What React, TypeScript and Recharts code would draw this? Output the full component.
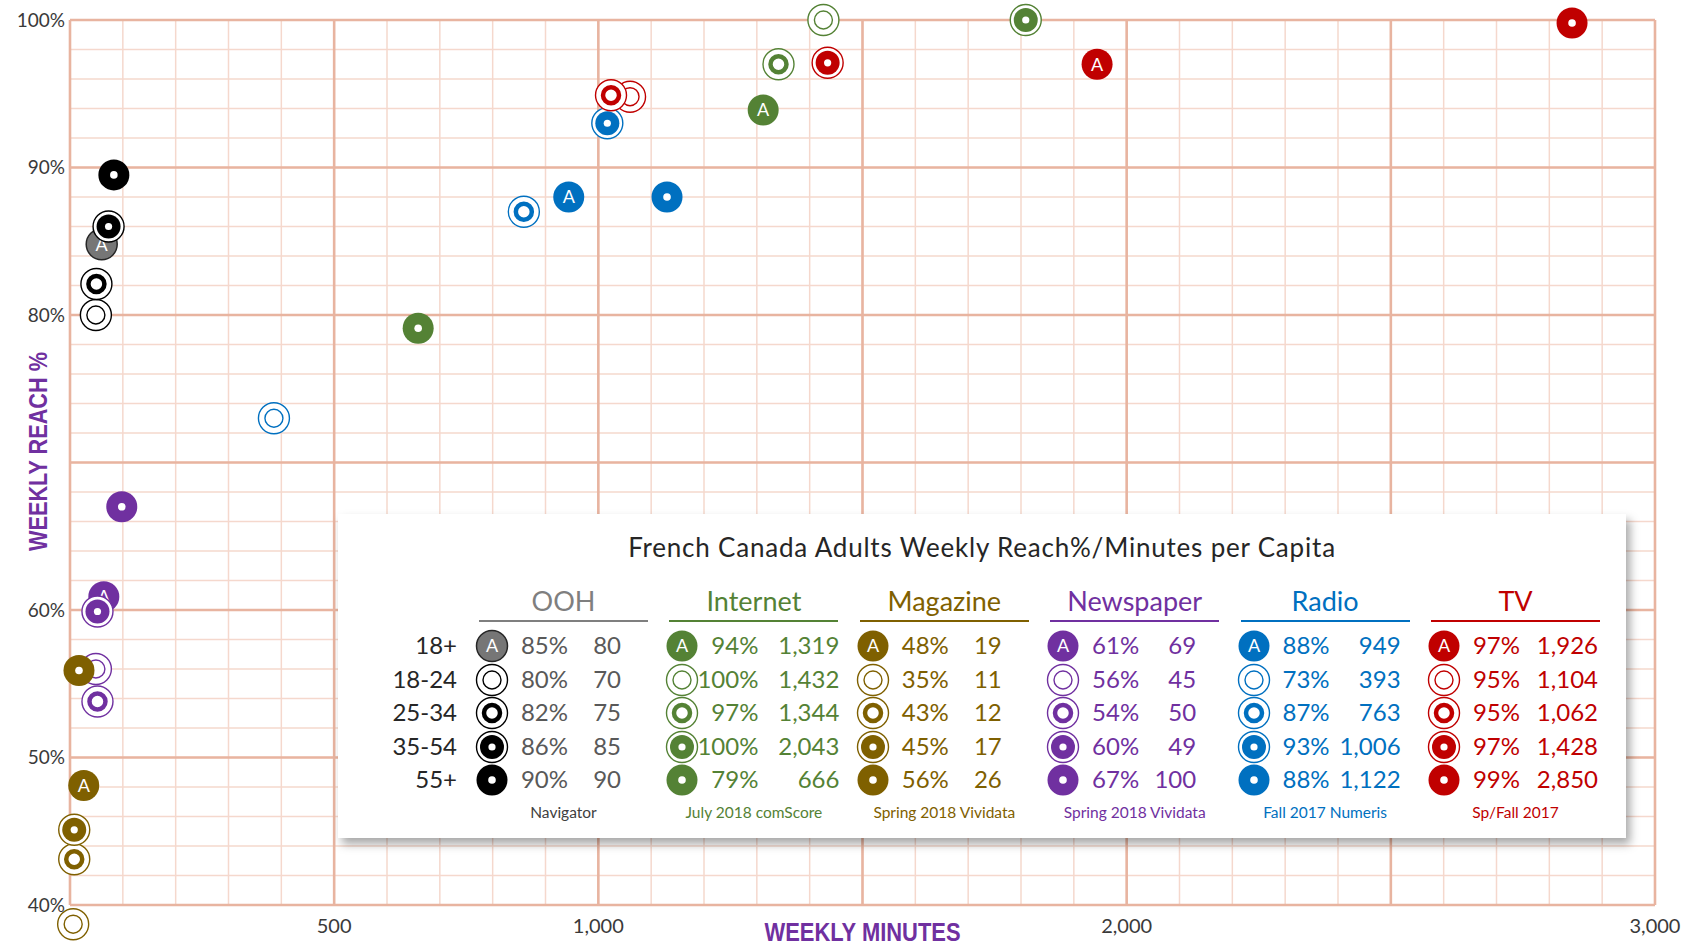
import React from 'react';
import { ScatterChart, Scatter, XAxis, YAxis, CartesianGrid, ReferenceDot, ReferenceLine, Label } from 'recharts';

const media = ['OOH', 'Internet', 'Magazine', 'Newspaper', 'Radio', 'TV'];
const segments = ['18+', '18-24', '25-34', '35-54', '55+'];
const markerColors = ['#000000', '#548235', '#7f6000', '#7030a0', '#0070c0', '#c00000'];
const textColors = ['#595959', '#548235', '#7f6000', '#7030a0', '#0070c0', '#c00000'];
const sources = ['Navigator', 'July 2018 comScore', 'Spring 2018 Vividata', 'Spring 2018 Vividata', 'Fall 2017 Numeris', 'Sp/Fall 2017'];

// figures as printed in the legend table
const reachText = [
  ['85%', '80%', '82%', '86%', '90%'],
  ['94%', '100%', '97%', '100%', '79%'],
  ['48%', '35%', '43%', '45%', '56%'],
  ['61%', '56%', '54%', '60%', '67%'],
  ['88%', '73%', '87%', '93%', '88%'],
  ['97%', '95%', '95%', '97%', '99%'],
];
const minutesText = [
  ['80', '70', '75', '85', '90'],
  ['1,319', '1,432', '1,344', '2,043', '666'],
  ['19', '11', '12', '17', '26'],
  ['69', '45', '50', '49', '100'],
  ['949', '393', '763', '1,006', '1,122'],
  ['1,926', '1,104', '1,062', '1,428', '2,850'],
];

// plotted points, in segment order (18+, 18-24, 25-34, 35-54, 55+)
const oohMinutes = [60, 49, 50, 73, 83];
const oohReach = [84.8, 80.0, 82.1, 86.0, 89.5];
const internetMinutes = [1312, 1426, 1341, 1809, 659];
const internetReach = [93.9, 100, 97.0, 100, 79.1];
const magazineMinutes = [26, 6, 8, 8, 17];
const magazineReach = [48.1, 38.7, 43.1, 45.1, 55.9];
const newspaperMinutes = [64, 49, 52, 52, 98];
const newspaperReach = [60.9, 56.0, 53.8, 59.9, 67.0];
const radioMinutes = [944, 386, 859, 1017, 1130];
const radioReach = [88.0, 73.0, 87.0, 93.0, 88.0];
const tvMinutes = [1944, 1060, 1024, 1434, 2843];
const tvReach = [97.0, 94.8, 94.9, 97.1, 99.8];

// labelled ticks, and grid steps
const xTickLabels = [500, 1000, 2000, 3000];
const yTickLabels = [40, 50, 60, 80, 90, 100];
const xMinor = Array.from({ length: 31 }, (_, i) => i * 100);
const yMinor = Array.from({ length: 31 }, (_, i) => 40 + i * 2);
const xMajor = [0, 500, 1000, 1500, 2000, 2500, 3000];
const yMajor = [40, 50, 60, 70, 80, 90, 100];

const Y_MIN = 40;

const build = (mins: number[], reach: number[]) =>
  mins.map((x, i) => ({ x, y: reach[i], seg: i }));

const seriesData = [
  build(oohMinutes, oohReach),
  build(internetMinutes, internetReach),
  build(magazineMinutes, magazineReach),
  build(newspaperMinutes, newspaperReach),
  build(radioMinutes, radioReach),
  build(tvMinutes, tvReach),
];
// magazine drawn after newspaper, like the original
const drawOrder = [0, 1, 3, 2, 4, 5];

const FONT = 'Lato, "Open Sans", sans-serif';
const MAJOR = '#e8b4a0';
const MINOR = '#f5d8cd';

function Marker({ cx, cy, seg, m }: { cx: number; cy: number; seg: number; m: number }) {
  const c = markerColors[m];
  const r = 15.5;
  if (cx == null || cy == null) return null;
  if (seg === 0) {
    return (
      <g>
        <circle cx={cx} cy={cy} r={r} fill={m === 0 ? '#767676' : c} stroke={m === 0 ? '#262626' : 'none'} strokeWidth={1.5} />
        <text x={cx} y={cy} dy="0.36em" textAnchor="middle" fill="#fff" fontSize={18} fontFamily={FONT}>A</text>
      </g>
    );
  }
  if (seg === 1) {
    return (
      <g>
        <circle cx={cx} cy={cy} r={r} fill="#fff" stroke={c} strokeWidth={1.4} />
        <circle cx={cx} cy={cy} r={9} fill="none" stroke={c} strokeWidth={1.4} />
      </g>
    );
  }
  if (seg === 2) {
    return (
      <g>
        <circle cx={cx} cy={cy} r={r} fill="#fff" stroke={c} strokeWidth={1.4} />
        <circle cx={cx} cy={cy} r={8} fill="none" stroke={c} strokeWidth={4.5} />
      </g>
    );
  }
  if (seg === 3) {
    return (
      <g>
        <circle cx={cx} cy={cy} r={r} fill="#fff" stroke={c} strokeWidth={1.4} />
        <circle cx={cx} cy={cy} r={12} fill={c} />
        <circle cx={cx} cy={cy} r={3.6} fill="#fff" />
      </g>
    );
  }
  return (
    <g>
      <circle cx={cx} cy={cy} r={r} fill={c} />
      <circle cx={cx} cy={cy} r={3.8} fill="#fff" />
    </g>
  );
}

function T({ x, y, size, color, anchor = 'start', family = FONT, spacing = 0, children }: any) {
  const shift = anchor === 'end' ? 'translateX(-100%)' : anchor === 'middle' ? 'translateX(-50%)' : 'none';
  return (
    <div style={{
      position: 'absolute', left: x, top: y - size * 0.62, lineHeight: `${size * 1.2}px`,
      fontSize: size, color, fontFamily: family, whiteSpace: 'nowrap', transform: shift,
      letterSpacing: spacing,
    }}>{children}</div>
  );
}

function LegendBox() {
  const colStart = (i: number) => 141 + i * 190.4;
  const minRight = [142, 170, 142, 146, 160, 167];
  const rowY = (j: number) => 132 + j * 33.5;
  return (
    <div style={{
      position: 'absolute', left: 338, top: 514, width: 1288, height: 324, background: '#fff',
      boxShadow: '4px 6px 9px rgba(0,0,0,0.35)',
    }}>
      <T x={644} y={34} size={26} color="#262626" anchor="middle" spacing={0.8}>
        French Canada Adults Weekly Reach%/Minutes per Capita
      </T>
      {segments.map((s, j) => (
        <T key={s} x={119} y={rowY(j)} size={24} color="#262626" anchor="end">{s}</T>
      ))}
      {media.map((name, i) => {
        const x0 = colStart(i);
        return (
          <React.Fragment key={name}>
            <T x={x0 + 84.5} y={88} size={27} color={i === 0 ? '#7f7f7f' : textColors[i]} anchor="middle">{name}</T>
            <div style={{ position: 'absolute', left: x0, top: 106, width: 169, height: 1.6, background: i === 0 ? '#7f7f7f' : textColors[i] }} />
            {segments.map((s, j) => (
              <React.Fragment key={s}>
                <svg style={{ position: 'absolute', left: x0 + 13 - 18, top: rowY(j) - 18 }} width={36} height={36}>
                  <Marker cx={18} cy={18} seg={j} m={i} />
                </svg>
                <T x={x0 + 89} y={rowY(j)} size={24} color={textColors[i]} anchor="end">{reachText[i][j]}</T>
                <T x={x0 + minRight[i]} y={rowY(j)} size={24} color={textColors[i]} anchor="end">{minutesText[i][j]}</T>
              </React.Fragment>
            ))}
            <T x={x0 + 84.5} y={299} size={15.5} color={i === 0 ? '#404040' : textColors[i]} anchor="middle">{sources[i]}</T>
          </React.Fragment>
        );
      })}
    </div>
  );
}

const TITLE_FONT = '"Liberation Sans", Arial, sans-serif';

export default function App() {
  const tickStyle = { fontSize: 19, fill: '#3a3a3a', fontFamily: FONT };
  return (
    <div style={{ position: 'relative', width: 1685, height: 946, background: '#fff' }}>
      <style>{'body{margin:0}'}</style>
      <ScatterChart width={1685} height={946} margin={{ top: 20, right: 30, bottom: 0, left: 0 }}>
        <CartesianGrid xAxisId="main" yAxisId="main" stroke={MINOR} strokeWidth={1.5} />
        {xMajor.map((v) => (
          <ReferenceLine key={`vx${v}`} xAxisId="main" yAxisId="main" x={v} stroke={MAJOR} strokeWidth={2.6} />
        ))}
        {yMajor.map((v) => (
          <ReferenceLine key={`hy${v}`} xAxisId="main" yAxisId="main" y={v} stroke={MAJOR} strokeWidth={2.6} />
        ))}
        <XAxis
          xAxisId="main" dataKey="x" type="number" domain={[0, 3000]} ticks={xMinor} interval={0}
          tickFormatter={(v: number) => (xTickLabels.includes(v) ? v.toLocaleString('en-US') : '')}
          height={41} tickSize={0} tickMargin={14} axisLine={false} tick={{ ...tickStyle, fontSize: 20 }}
        >
          <Label
            content={({ viewBox }: any) => (
              <text x={viewBox.x + viewBox.width / 2} y={viewBox.y + 27} dy="0.36em" textAnchor="middle"
                fill="#7030a0" fontSize={25} fontWeight="bold" fontFamily={TITLE_FONT}
                textLength={196} lengthAdjust="spacingAndGlyphs">
                WEEKLY MINUTES
              </text>
            )}
          />
        </XAxis>
        <YAxis
          yAxisId="main" dataKey="y" type="number" domain={[40, 100]} ticks={yMinor} interval={0}
          tickFormatter={(v: number) => (yTickLabels.includes(v) ? `${v}%` : '')}
          width={70} tickSize={0} tickMargin={5} axisLine={false} tick={tickStyle}
        >
          <Label
            content={({ viewBox }: any) => {
              const x = viewBox.x + 38;
              const y = viewBox.y + viewBox.height / 2 - 11;
              return (
                <text x={x} y={y} dy="0.36em" textAnchor="middle" transform={`rotate(-90 ${x} ${y})`}
                  fill="#7030a0" fontSize={25} fontWeight="bold" fontFamily={TITLE_FONT}
                  textLength={199} lengthAdjust="spacingAndGlyphs">
                  WEEKLY REACH %
                </text>
              );
            }}
          />
        </YAxis>
        {drawOrder.map((m) => (
          <Scatter
            key={media[m]} name={media[m]} xAxisId="main" yAxisId="main"
            data={seriesData[m].filter((d) => d.y >= Y_MIN)}
            isAnimationActive={false}
            shape={(p: any) => <Marker cx={p.cx} cy={p.cy} seg={p.payload.seg} m={m} />}
          />
        ))}
        {drawOrder.flatMap((m) =>
          seriesData[m].filter((d) => d.y < Y_MIN).map((d) => (
            <ReferenceDot
              key={`${m}-${d.seg}`} x={d.x} y={d.y} xAxisId="main" yAxisId="main" ifOverflow="visible"
              shape={(p: any) => <Marker cx={p.cx} cy={p.cy} seg={d.seg} m={m} />}
            />
          ))
        )}
      </ScatterChart>
      <LegendBox />
    </div>
  );
}
